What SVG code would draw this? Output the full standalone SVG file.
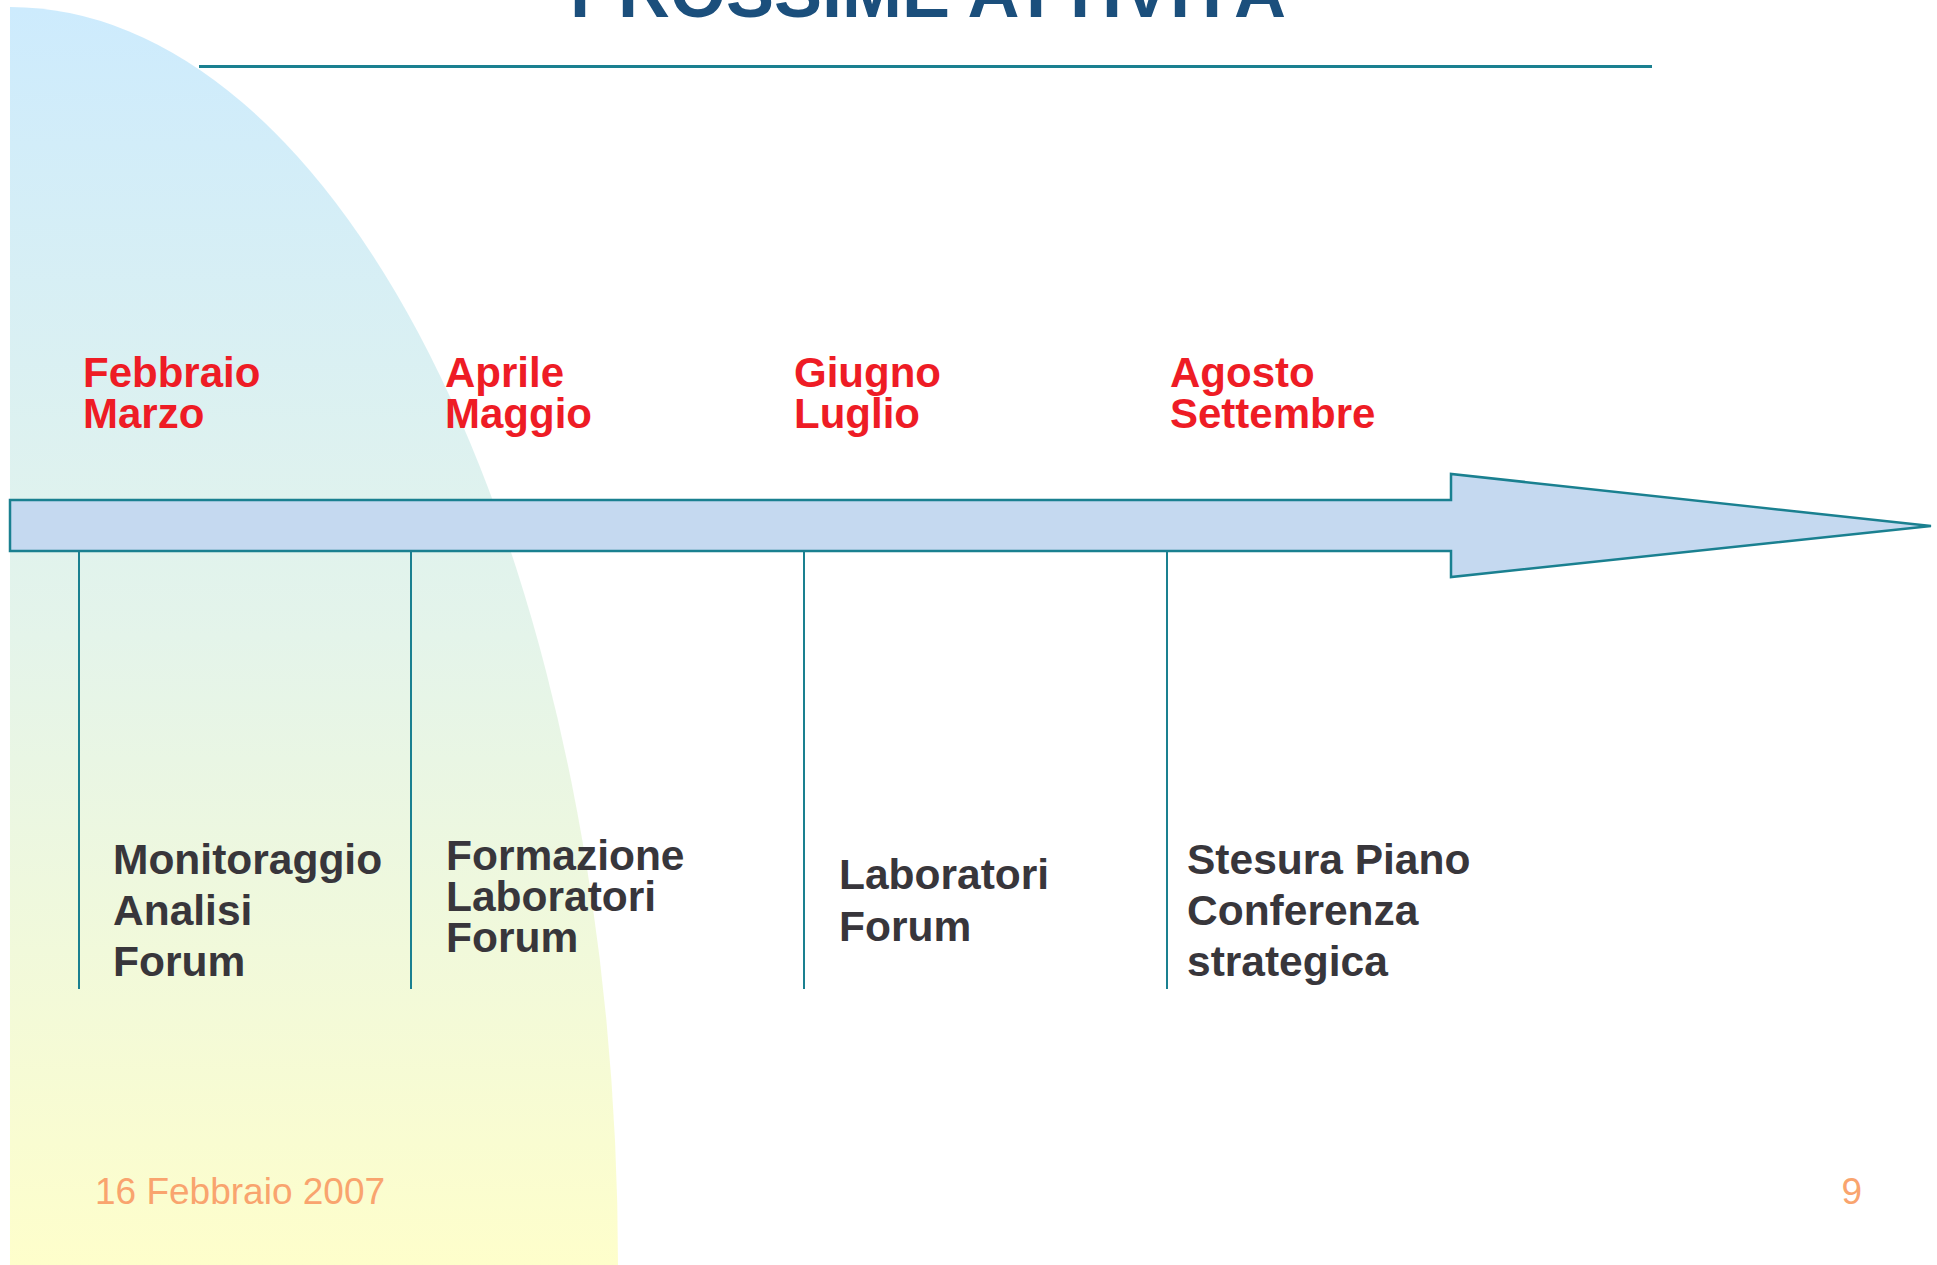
<svg xmlns="http://www.w3.org/2000/svg" width="1937" height="1265" viewBox="0 0 1937 1265">
  <style>
    .title { font-family: "Liberation Sans", Arial, sans-serif; font-weight: bold; font-size: 72px; fill: #1b4f7c; }
    .month { font-family: "Liberation Sans", Arial, sans-serif; font-weight: bold; font-size: 42px; fill: #ee1c25; }
    .act { font-family: "Liberation Sans", Arial, sans-serif; font-weight: bold; font-size: 42.5px; fill: #38363b; }
    .foot { font-family: "Liberation Sans", Arial, sans-serif; font-size: 37px; fill: #f9a46e; }
    .tick { stroke: #1a8090; stroke-width: 2; fill: none; }
  </style>
  <defs>
    <linearGradient id="bg" x1="0" y1="0" x2="0" y2="1">
      <stop offset="0" stop-color="#cdebfd"/>
      <stop offset="0.5" stop-color="#e4f4ea"/>
      <stop offset="1" stop-color="#fefecb"/>
    </linearGradient>
  </defs>
  <rect width="1937" height="1265" fill="#ffffff"/>
  <path id="background" d="M10,7 A608,1258 0 0 1 618,1265 L10,1265 Z" fill="url(#bg)"/>
  <g id="title">
    <text class="title" x="928" y="17" text-anchor="middle">PROSSIME ATTIVITÀ</text>
    <line x1="199" y1="66.5" x2="1652" y2="66.5" stroke="#1a8090" stroke-width="3"/>
  </g>
  <g id="timeline-arrow">
    <path d="M10,500 L1451,500 L1451,474 L1931,526 L1451,577 L1451,551 L10,551 Z" fill="#c5d9f0" stroke="#1a8090" stroke-width="2.5" stroke-linejoin="miter"/>
  </g>
  <g id="connectors">
    <line class="tick" x1="79" y1="551" x2="79" y2="989"/>
    <line class="tick" x1="411" y1="551" x2="411" y2="989"/>
    <line class="tick" x1="804" y1="551" x2="804" y2="989"/>
    <line class="tick" x1="1167" y1="551" x2="1167" y2="989"/>
  </g>
  <g id="period-1">
    <text class="month" x="83" y="387">Febbraio</text>
    <text class="month" x="83" y="428">Marzo</text>
    <text class="act" x="113" y="874">Monitoraggio</text>
    <text class="act" x="113" y="925">Analisi</text>
    <text class="act" x="113" y="976">Forum</text>
  </g>
  <g id="period-2">
    <text class="month" x="445" y="387">Aprile</text>
    <text class="month" x="445" y="428">Maggio</text>
    <text class="act" x="446" y="870">Formazione</text>
    <text class="act" x="446" y="911">Laboratori</text>
    <text class="act" x="446" y="952">Forum</text>
  </g>
  <g id="period-3">
    <text class="month" x="794" y="387">Giugno</text>
    <text class="month" x="794" y="428">Luglio</text>
    <text class="act" x="839" y="889">Laboratori</text>
    <text class="act" x="839" y="941">Forum</text>
  </g>
  <g id="period-4">
    <text class="month" x="1170" y="387">Agosto</text>
    <text class="month" x="1170" y="428">Settembre</text>
    <text class="act" x="1187" y="874">Stesura Piano</text>
    <text class="act" x="1187" y="925">Conferenza</text>
    <text class="act" x="1187" y="976">strategica</text>
  </g>
  <g id="footer">
    <text class="foot" x="95" y="1204">16 Febbraio 2007</text>
    <text class="foot" x="1862" y="1204" text-anchor="end">9</text>
  </g>
</svg>
